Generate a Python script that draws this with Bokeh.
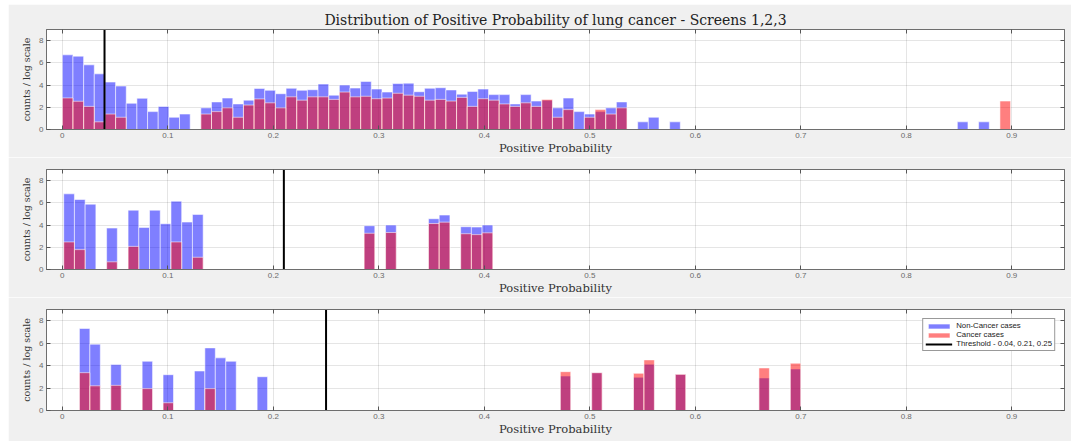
from bokeh.plotting import figure
from bokeh.layouts import column
from bokeh.models import (ColumnDataSource, FixedTicker, LinearAxis, Range1d,
                          Legend, LegendItem, CustomJSTickFormatter)
from bokeh.embed import file_html
from bokeh.resources import INLINE

# ---------------------------------------------------------------- texts / ticks
title_text = "Distribution of Positive Probability of lung cancer - Screens 1,2,3"
x_label = "Positive Probability"
y_label = "counts / log scale"
x_ticks = [0, 0.1, 0.2, 0.3, 0.4, 0.5, 0.6, 0.7, 0.8, 0.9]
y_ticks = [0, 2, 4, 6, 8]
legend_labels = ["Non-Cancer cases", "Cancer cases", "Threshold - 0.04, 0.21, 0.25"]
thresholds = [0.04, 0.21, 0.25]

# ---------------------------------------------------------------- screen 1
# histogram bins (index from first edge), log(counts) per class
s1_bin_start = 0.0
s1_bin_width = 0.0101
s1_bins = [0, 1, 2, 3, 4, 5, 6, 7, 8, 9, 10, 11,
           13, 14, 15, 16, 17, 18, 19, 20, 21, 22, 23, 24, 25, 26, 27, 28, 29, 30,
           31, 32, 33, 34, 35, 36, 37, 38, 39, 40, 41, 42, 43, 44, 45, 46, 47, 48,
           49, 50, 51, 52, 54, 55, 57, 84, 86, 88]
s1_noncancer = [6.72, 6.60, 5.82, 5.01, 4.27, 3.91, 2.36, 2.81, 1.61, 2.08, 1.10, 1.39,
                1.95, 2.48, 2.83, 2.30, 2.64, 3.70, 3.53, 3.22, 3.71, 3.53, 3.58, 4.09,
                3.09, 4.00, 3.73, 4.33, 3.64, 3.37, 4.14, 4.17, 3.40, 3.71, 3.76, 3.56,
                3.18, 3.43, 3.64, 3.14, 3.14, 2.30, 3.14, 2.56, 2.64, 1.95, 2.83, 1.61,
                1.39, 1.61, 1.95, 2.48, 0.69, 1.10, 0.69, 0.69, 0.69, 0.0]
s1_cancer = [2.84, 2.54, 2.08, 0.69, 1.39, 1.10, 0.0, 0.0, 0.0, 0.0, 0.0, 0.0,
             1.39, 1.61, 1.95, 1.10, 2.20, 2.75, 2.40, 1.95, 2.94, 2.64, 2.94, 2.94,
             2.71, 3.37, 2.94, 2.99, 2.77, 2.83, 3.26, 3.09, 2.99, 2.64, 2.71, 2.56,
             2.89, 2.08, 2.77, 2.64, 2.30, 2.08, 2.40, 2.08, 2.71, 1.10, 1.79, 0.0,
             1.10, 1.79, 1.39, 1.95, 0.0, 0.0, 0.0, 0.0, 0.0, 2.56]

# ---------------------------------------------------------------- screen 2
s2_bin_start = 0.0013
s2_bin_width = 0.01017
s2_bins = [0, 1, 2, 4, 6, 7, 8, 9, 10, 11, 12, 28, 30, 34, 35, 37, 38, 39]
s2_noncancer = [6.81, 6.30, 5.88, 3.73, 5.34, 3.79, 5.34, 4.12, 6.15, 4.27, 4.96,
                3.94, 4.00, 4.57, 4.90, 3.85, 3.82, 4.00]
s2_cancer = [2.48, 1.79, 0.0, 0.69, 2.08, 0.0, 0.0, 0.0, 2.48, 0.0, 1.10,
             3.26, 3.33, 4.14, 4.26, 3.22, 3.14, 3.30]

# ---------------------------------------------------------------- screen 3
s3_bin_start = 0.0162
s3_bin_width = 0.00991
s3_bins = [0, 1, 3, 6, 8, 11, 12, 13, 14, 17, 46, 49, 53, 54, 57, 65, 68]
s3_noncancer = [7.31, 5.91, 4.09, 4.39, 3.19, 3.52, 5.58, 4.69, 4.39, 3.01,
                3.07, 3.37, 2.96, 4.12, 3.22, 2.90, 3.70]
s3_cancer = [3.37, 2.20, 2.24, 1.95, 0.69, 0.0, 1.95, 0.0, 0.0, 0.0,
             3.46, 3.37, 3.31, 4.51, 3.22, 3.79, 4.21]

X_LO, X_HI = -0.015, 0.95
Y_LO, Y_HI = 0, 9

BG = "#f0f0f0"
FRAME = "#6e6e6e"
TICK_FONT = "Liberation Sans"
SERIF = "DejaVu Serif"


def hist_source(bins, values, start, width):
    left, right, top = [], [], []
    for b, v in zip(bins, values):
        if v <= 0:
            continue
        edge = start + b * width
        left.append(edge)
        right.append(edge + width)
        top.append(v)
    return ColumnDataSource(dict(left=left, right=right, top=top))


def style_axis(ax, labels=True, label_size="11.5px"):
    ax.axis_line_color = FRAME
    ax.major_tick_line_color = "#555555"
    ax.major_tick_in = 4
    ax.major_tick_out = 0
    ax.minor_tick_in = 0
    ax.minor_tick_out = 0
    if labels:
        ax.major_label_text_font = TICK_FONT
        ax.major_label_text_font_size = "8px"
        ax.major_label_text_color = "#6a6a6a"
        ax.major_label_standoff = 3
        ax.axis_label_text_font = SERIF
        ax.axis_label_text_font_size = label_size
        ax.axis_label_text_font_style = "normal"
        ax.axis_label_text_color = "#333333"
        ax.axis_label_standoff = 0
    else:
        ax.major_label_text_font_size = "0px"
        ax.major_label_standoff = 0


def make_panel(bins, noncancer, cancer, start, width, threshold,
               height, border_top, border_bottom, with_title=False, with_legend=False):
    p = figure(width=1063, height=height,
               x_range=Range1d(X_LO, X_HI), y_range=Range1d(Y_LO, Y_HI),
               output_backend="svg", toolbar_location=None,
               min_border_left=38, min_border_right=7,
               min_border_top=border_top, min_border_bottom=border_bottom,
               background_fill_color="white", border_fill_color=BG,
               outline_line_color=FRAME, outline_line_width=1)

    if with_title:
        p.title.text = title_text
        p.title.align = "center"
        p.title.text_font = SERIF
        p.title.text_font_size = "14px"
        p.title.text_font_style = "normal"
        p.title.text_color = "#222222"
        p.title.standoff = 3

    p.xaxis.ticker = FixedTicker(ticks=x_ticks)
    p.xaxis.major_label_overrides = {0: "0"}
    p.yaxis.ticker = FixedTicker(ticks=y_ticks)
    p.xaxis.axis_label = x_label
    p.yaxis.axis_label = y_label
    style_axis(p.xaxis[0], label_size="11.5px")
    style_axis(p.yaxis[0], label_size="9.5px")
    p.yaxis.axis_label_standoff = 4

    empty = CustomJSTickFormatter(code="return ''")
    top_ax = LinearAxis(ticker=FixedTicker(ticks=x_ticks), formatter=empty)
    right_ax = LinearAxis(ticker=FixedTicker(ticks=y_ticks), formatter=empty)
    style_axis(top_ax, labels=False)
    style_axis(right_ax, labels=False)
    p.add_layout(top_ax, "above")
    p.add_layout(right_ax, "right")

    p.xgrid.ticker = FixedTicker(ticks=x_ticks)
    p.ygrid.ticker = FixedTicker(ticks=y_ticks)
    p.grid.grid_line_color = "#000000"
    p.grid.grid_line_alpha = 0.1

    blue = p.quad(left="left", right="right", bottom=0, top="top",
                  source=hist_source(bins, noncancer, start, width),
                  fill_color="#0000ff", fill_alpha=0.5,
                  line_color="white", line_alpha=0.55, line_width=1)
    red = p.quad(left="left", right="right", bottom=0, top="top",
                 source=hist_source(bins, cancer, start, width),
                 fill_color="#ff0000", fill_alpha=0.5,
                 line_color="white", line_alpha=0.55, line_width=1)
    thr = p.segment(x0=threshold, y0=Y_LO, x1=threshold, y1=Y_HI,
                    line_color="black", line_width=2)

    if with_legend:
        legend = Legend(items=[LegendItem(label=legend_labels[0], renderers=[blue]),
                               LegendItem(label=legend_labels[1], renderers=[red]),
                               LegendItem(label=legend_labels[2], renderers=[thr])],
                        location="top_right")
        legend.label_text_font = TICK_FONT
        legend.label_text_font_size = "7.8px"
        legend.label_text_line_height = 0.9
        legend.label_text_color = "#222222"
        legend.glyph_width = 27
        legend.glyph_height = 6
        legend.label_height = 6
        legend.label_standoff = 4
        legend.spacing = 0
        legend.padding = 2
        legend.margin = 9
        legend.border_line_color = "#333333"
        legend.border_line_width = 1
        legend.background_fill_alpha = 1
        p.add_layout(legend)
    return p


p1 = make_panel(s1_bins, s1_noncancer, s1_cancer, s1_bin_start, s1_bin_width,
                thresholds[0], 153, 25, 27, with_title=True)
p2 = make_panel(s2_bins, s2_noncancer, s2_cancer, s2_bin_start, s2_bin_width,
                thresholds[1], 140, 12, 27)
p3 = make_panel(s3_bins, s3_noncancer, s3_cancer, s3_bin_start, s3_bin_width,
                thresholds[2], 144, 12, 31, with_legend=True)

layout = column(p1, p2, p3, spacing=0, margin=(4, 8, 0, 8))

open("out.html", "w").write(file_html(layout, INLINE))
